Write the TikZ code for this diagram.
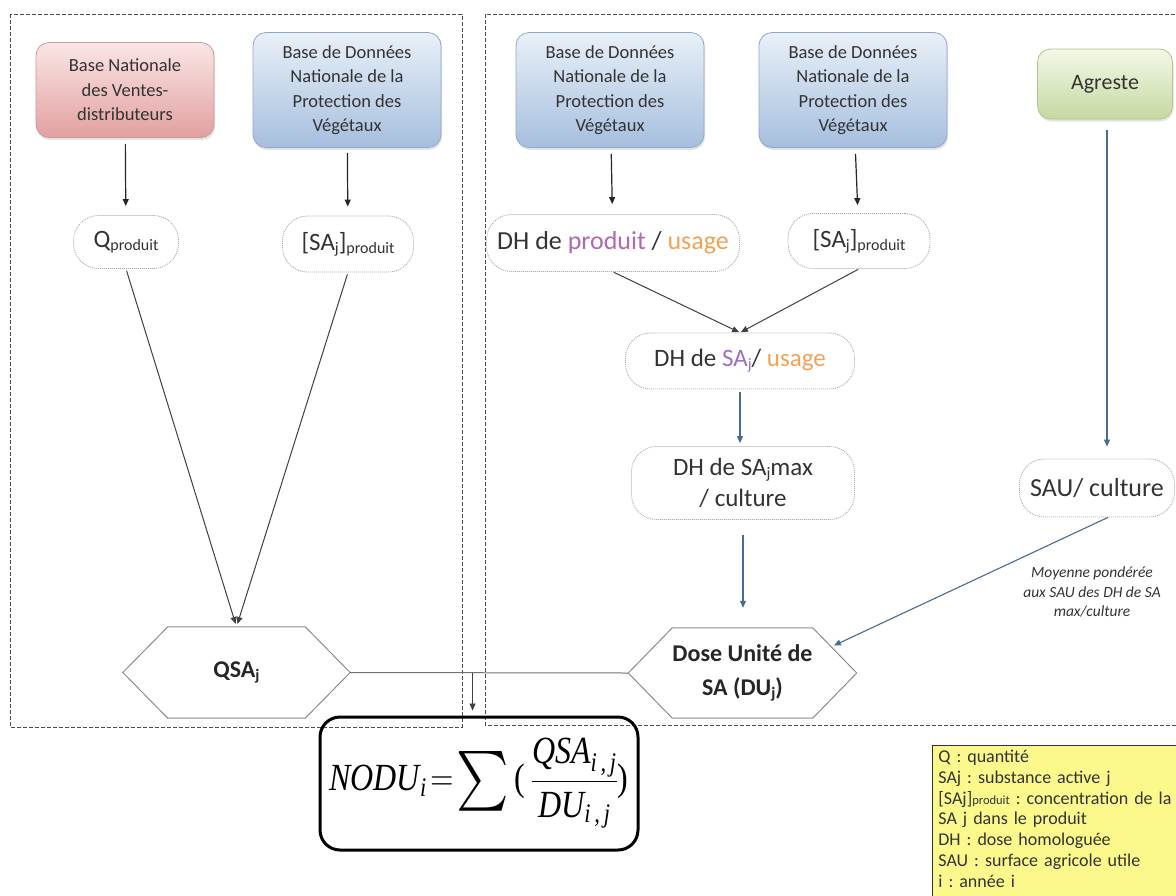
\RequirePackage{fix-cm}
\documentclass[tikz,border=0pt]{standalone}
\usepackage{amsmath}
\usepackage{graphicx}
\usepackage{fontspec}
\setmainfont{Carlito}
\newfontfamily\tnr{Liberation Serif}
\usetikzlibrary{arrows.meta,calc,shadows}
\definecolor{txt}{HTML}{333333}
\definecolor{redT}{HTML}{FAE6E5}
\definecolor{redB}{HTML}{E2A0A0}
\definecolor{redD}{HTML}{CC9A9A}
\definecolor{bluT}{HTML}{E9F0F8}
\definecolor{bluB}{HTML}{A6BFDE}
\definecolor{bluD}{HTML}{8FA8C8}
\definecolor{grnT}{HTML}{F3F8E8}
\definecolor{grnB}{HTML}{C5D9A0}
\definecolor{grnD}{HTML}{AFC68C}
\definecolor{arrB}{HTML}{4A6B8F}
\definecolor{purA}{HTML}{B268AE}
\definecolor{purB}{HTML}{9C72C2}
\definecolor{orgA}{HTML}{F2A256}
\definecolor{legY}{HTML}{FBF98C}
\newcommand\pdsub[1]{\raisebox{-3pt}{\fontsize{16}{16}\selectfont #1}}
\newcommand\ti[1]{\text{\tnr\itshape #1}}
\newcommand\bigsum{\mathop{\vcenter{\hbox{\scalebox{2.0}{$\textstyle\sum$}}}}}
\tikzset{
  panel/.style={draw=black!70, line width=0.9pt, dash pattern=on 4pt off 2pt},
  srcbox/.style={rounded corners=13pt, text=txt, align=center, inner sep=0pt,
    font=\fontsize{18.5}{24.5}\selectfont, line width=0.8pt,
    drop shadow={opacity=0.22, shadow xshift=1pt, shadow yshift=-2.5pt}},
  redbox/.style={srcbox, top color=redT, bottom color=redB, draw=redD},
  blubox/.style={srcbox, top color=bluT, bottom color=bluB, draw=bluD,
    minimum width=188pt, minimum height=115pt},
  grnbox/.style={srcbox, top color=grnT, bottom color=grnB, draw=grnD},
  pill/.style={draw=black!35, line width=0.8pt, dash pattern=on 1pt off 1pt,
    rounded corners=25pt, text=txt, align=center, inner sep=0pt,
    font=\fontsize{25}{28}\selectfont},
  hexin/.style={inner sep=0pt, text=black!85, align=center,
    font=\bfseries\fontsize{24}{34}\selectfont},
  hexline/.style={draw=black!45, line width=1pt},
  arrK/.style={draw=black!85, line width=1.2pt, -{Triangle[length=7pt,width=6pt]}},
  arrT/.style={draw=black!75, line width=1pt, -{Triangle[length=7pt,width=6pt]}},
  arrU/.style={draw=arrB, line width=1.1pt, -{Triangle[length=7pt,width=6pt]}},
}
\begin{document}
\begin{tikzpicture}[x=1pt,y=-1pt]
\useasboundingbox (0,0) rectangle (1176,895);
\fill[white] (0,0) rectangle (1176,895);

% panels
\draw[panel] (10,14) rectangle (462,727);
\draw[panel] (485,14) rectangle (1190,725);

% sources
\node[redbox, minimum width=178pt, minimum height=95pt] (bnv) at (125,90)
  {Base Nationale\\des Ventes-\\distributeurs};
\node[blubox] (bdL) at (347,90) {Base de Données\\Nationale de la\\Protection des\\Végétaux};
\node[blubox] (bdM) at (610,90) {Base de Données\\Nationale de la\\Protection des\\Végétaux};
\node[blubox] (bdN) at (853,90) {Base de Données\\Nationale de la\\Protection des\\Végétaux};
\node[grnbox, minimum width=135pt, minimum height=70pt, font=\fontsize{22}{26}\selectfont] (agr) at (1105,84) {Agreste};

% intermediate values
\node[pill, minimum width=105pt, minimum height=53pt] (qp) at (126,242) {Q\pdsub{produit}};
\node[pill, minimum width=131pt, minimum height=56pt] (spL) at (348,244) {[SA\pdsub{j}]\pdsub{produit}};
\node[pill, minimum width=253pt, minimum height=57pt, font=\fontsize{26}{28}\selectfont] (dhp) at (613,243)
  {DH de \textcolor{purA}{produit} / \textcolor{orgA}{usage}};
\node[pill, minimum width=142pt, minimum height=55pt] (spM) at (859,241) {[SA\pdsub{j}]\pdsub{produit}};
\node[pill, minimum width=229pt, minimum height=56pt] (dhs) at (740,361)
  {DH de \textcolor{purB}{SA\pdsub{j}}/ \textcolor{orgA}{usage}};
\node[pill, minimum width=223pt, minimum height=73pt, font=\fontsize{25}{31}\selectfont] (dhm) at (743,483)
  {DH de SA\pdsub{j}max\\/ culture};
\node[pill, minimum width=155pt, minimum height=58pt, font=\fontsize{26}{28}\selectfont] (sau) at (1097,488) {SAU/ culture};

% hexagons
\node[hexin, minimum width=137pt, minimum height=91pt] (qsa) at (236.5,672.5) {QSA\pdsub{j}};
\draw[hexline] (qsa.north west) -- (qsa.north east) -- ($(qsa.east)+(45,0)$) coordinate (qsaR)
  -- (qsa.south east) -- (qsa.south west) -- ($(qsa.west)+(-45,0)$) -- cycle;
\node[hexin, minimum width=139pt, minimum height=90pt] (dose) at (742.5,673) {Dose Unité de\\SA (DU\pdsub{j})};
\draw[hexline] (dose.north west) -- (dose.north east) -- ($(dose.east)+(44,0)$) coordinate (doseR)
  -- (dose.south east) -- (dose.south west) -- ($(dose.west)+(-44,0)$) coordinate (doseL) -- cycle;
\coordinate (doseNE) at ($(dose.north east)!0.42!(doseR)$);

% formula
\node[draw=black, line width=3pt, rounded corners=20pt, minimum width=318pt, minimum height=133pt,
  inner sep=0pt, font=\fontsize{32}{36}\selectfont] (nodu) at (479,783.5)
  {\scalebox{1}[1.2]{$\displaystyle\ti{NODU}_{\ti{i}}\!=\!\bigsum\text{\tnr(}\,\frac{\ti{QSA}_{\ti{i\,,\,j}}}{\ti{DU}_{\ti{i\,,\,j}}}\text{\tnr)}$}};

% note and legend
\node[font=\itshape\fontsize{15.5}{19.5}\selectfont, text=txt, align=center] (moy) at (1092,592)
  {Moyenne pondérée\\aux SAU des DH de SA\\max/culture};
\node[draw=black!80, line width=0.8pt, fill=legY, anchor=north west, inner xsep=6pt, inner ysep=5pt,
  minimum height=170pt, text width=260pt, align=left, text=txt,
  font=\frenchspacing\fontsize{18}{20.7}\selectfont] (leg) at (932,745)
  {Q : quantité\\SAj : substance active j\\{[}SAj{]}{\fontsize{12.5}{12.5}\selectfont produit} : concentration de la\\SA j dans le produit\\DH : dose homologuée\\SAU : surface agricole utile\\i : année i\par\vspace{30pt}};

% connectors
\draw[arrK, shorten <=6pt, shorten >=9pt] (bnv) -- (qp);
\draw[arrK, shorten <=5pt, shorten >=9pt] (bdL) -- (spL);
\draw[arrK, shorten <=6pt, shorten >=10pt] (bdM) -- (dhp);
\draw[arrK, shorten <=6pt, shorten >=8pt] (bdN) -- (spM);
\draw[arrU, shorten <=11pt, shorten >=12pt] ([xshift=2pt]agr.south) -- ([xshift=10pt]sau.north);
\draw[arrT, shorten <=2pt, shorten >=3pt] (qp.south) -- (qsa.north);
\draw[arrT, shorten <=2pt, shorten >=3pt] (spL.south) -- (qsa.north);
\draw[arrT, shorten <=1pt, shorten >=1pt] (dhp.south) -- (dhs.north);
\draw[arrT, shorten <=1pt, shorten >=1pt] (spM.south) -- (dhs.north);
\draw[arrU, shorten <=3pt, shorten >=3pt] (dhs.south) -- (dhs.south |- dhm.north);
\draw[arrU, shorten <=15pt, shorten >=20pt] (dhm.south) -- (dhm.south |- dose.north);
\draw[arrU, shorten <=0pt, shorten >=3pt] ([xshift=11pt]sau.south) -- (doseNE);
\draw[draw=black!55, line width=1pt] (qsaR) -- (doseL);
\coordinate (jn) at ($(qsaR)!0.44!(doseL)$);
\draw[arrT, line width=0.9pt, shorten >=5pt] (jn) -- (jn |- nodu.north);
\end{tikzpicture}
\end{document}
